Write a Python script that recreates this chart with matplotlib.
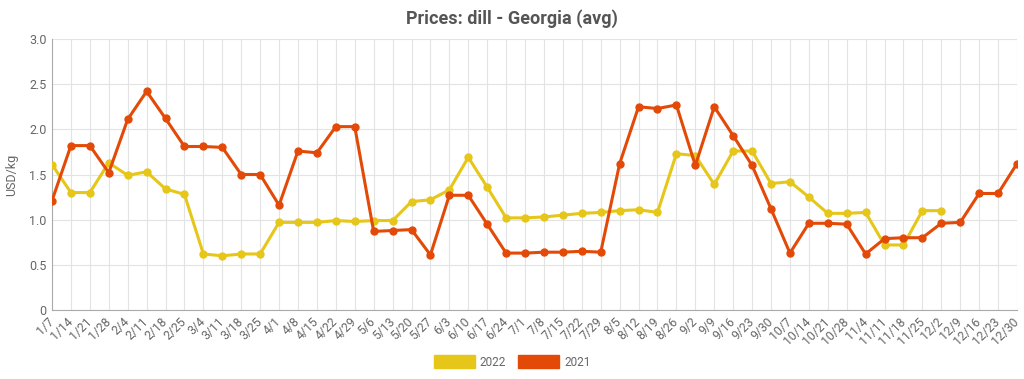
import numpy as np
import matplotlib
matplotlib.use("Agg")
import matplotlib.pyplot as plt
from matplotlib.patches import Patch

plt.rcParams['font.family'] = ['Roboto', 'DejaVu Sans']

# weekly labels
weeks = ['1/7', '1/14', '1/21', '1/28', '2/4', '2/11', '2/18', '2/25', '3/4', '3/11',
         '3/18', '3/25', '4/1', '4/8', '4/15', '4/22', '4/29', '5/6', '5/13', '5/20',
         '5/27', '6/3', '6/10', '6/17', '6/24', '7/1', '7/8', '7/15', '7/22', '7/29',
         '8/5', '8/12', '8/19', '8/26', '9/2', '9/9', '9/16', '9/23', '9/30', '10/7',
         '10/14', '10/21', '10/28', '11/4', '11/11', '11/18', '11/25', '12/2', '12/9',
         '12/16', '12/23', '12/30']

prices_2022 = [1.61, 1.30, 1.30, 1.63, 1.49, 1.53, 1.34, 1.28, 0.62, 0.60,
               0.62, 0.62, 0.97, 0.97, 0.97, 0.99, 0.98, 0.99, 0.99, 1.20,
               1.22, 1.33, 1.69, 1.36, 1.02, 1.02, 1.03, 1.05, 1.07, 1.08,
               1.10, 1.11, 1.08, 1.73, 1.71, 1.39, 1.76, 1.76, 1.40, 1.42,
               1.25, 1.07, 1.07, 1.08, 0.72, 0.72, 1.10, 1.10, None, None,
               None, None]

prices_2021 = [1.21, 1.82, 1.82, 1.52, 2.11, 2.42, 2.12, 1.81, 1.81, 1.80,
               1.50, 1.50, 1.16, 1.76, 1.74, 2.03, 2.03, 0.87, 0.88, 0.89,
               0.61, 1.27, 1.27, 0.95, 0.63, 0.63, 0.64, 0.64, 0.65, 0.64,
               1.62, 2.25, 2.23, 2.27, 1.60, 2.25, 1.93, 1.60, 1.12, 0.63,
               0.96, 0.96, 0.95, 0.62, 0.79, 0.80, 0.80, 0.96, 0.97, 1.29,
               1.29, 1.62]

c22 = '#e6c619'
c21 = '#e34a08'
grey = '#666666'

x = np.arange(len(weeks))
y22 = np.array([np.nan if v is None else v for v in prices_2022])
y21 = np.array(prices_2021)

fig = plt.figure(figsize=(10.24, 3.79), dpi=100)
ax = fig.add_axes([52/1024, 1-310/379, (1017-52)/1024, (310-39)/379])

ax.plot(x, y22, color=c22, lw=2.2, marker='o', ms=5, zorder=3)
ax.plot(x, y21, color=c21, lw=2.2, marker='o', ms=5, zorder=4)

ax.set_xlim(0, len(weeks)-1)
ax.set_ylim(0, 3.0)
ax.set_xticks(x)
ax.set_xticklabels(weeks, rotation=45, ha='right', va='center', rotation_mode='anchor',
                   fontsize=8.8, color=grey)
yt = [0, 0.5, 1.0, 1.5, 2.0, 2.5, 3.0]
ax.set_yticks(yt)
ax.set_yticklabels(['0' if v == 0 else '%.1f' % v for v in yt], fontsize=9, color=grey)
ax.tick_params(length=0, pad=4)
ax.tick_params(axis='x', pad=7)
ax.grid(True, color='#e3e3e3', lw=0.8)
ax.set_axisbelow(True)
for s in ['top', 'right']:
    ax.spines[s].set_visible(False)
for s in ['left', 'bottom']:
    ax.spines[s].set_color('#aaaaaa')
ax.set_ylabel('USD/kg', fontsize=9, color=grey, labelpad=8)

fig.suptitle('Prices: dill - Georgia (avg)', y=0.975, fontsize=13,
             fontweight='bold', color='#555555')

handles = [Patch(facecolor=c22, edgecolor=c22, label='2022'),
           Patch(facecolor=c21, edgecolor=c21, label='2021')]
fig.legend(handles=handles, loc='center', bbox_to_anchor=(0.5, 1-362/379), ncol=2,
           frameon=False, fontsize=8.5, handlelength=3.5, handleheight=1.2,
           columnspacing=1.0, handletextpad=0.4, labelcolor=grey)

fig.savefig('out.png', dpi=100)
